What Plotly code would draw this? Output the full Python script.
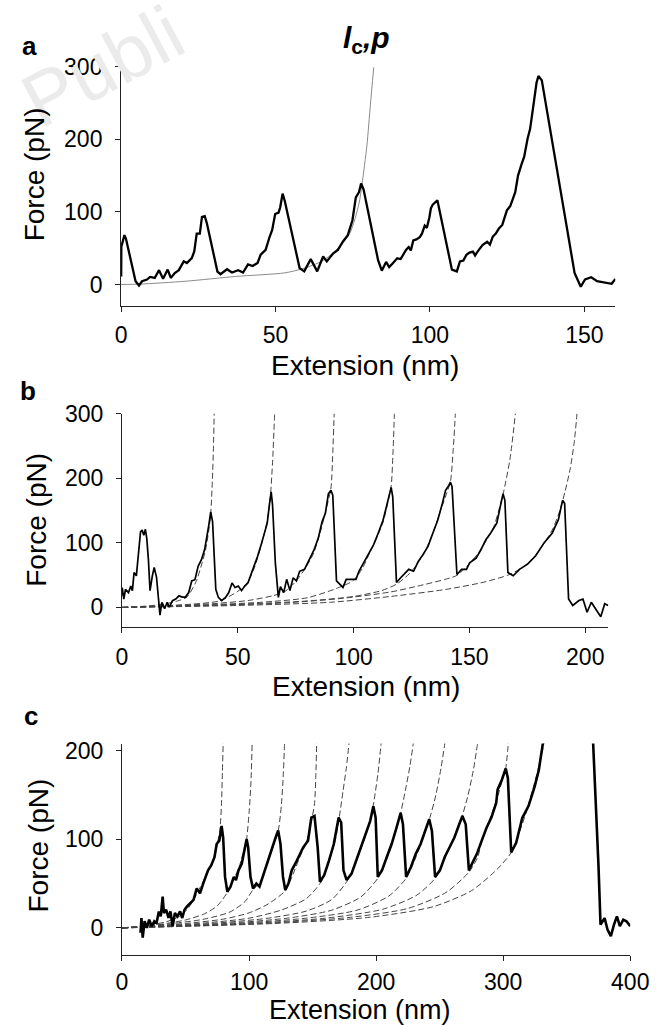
import plotly.graph_objects as go

# ---------------- Panel a: force-extension trace ----------------
ext_a = [0.05, 0.1, 1.1, 1.6, 4.7, 5.8, 6.8, 8.4, 9.4, 10.9,
         12.3, 13.6, 15.1, 16.1, 17.4, 18.7, 20.3, 21.3, 22.9, 23.7,
         24.5, 25.5, 26.2, 27.1, 27.8, 31.2, 32.2, 34.3, 35.9, 37.9,
         39.5, 41.1, 42.6, 44.2, 45.2, 46.8, 48.1, 48.9, 49.9, 51.0,
         51.5, 52.3, 53.0, 57.3, 57.8, 59.3, 60.4, 61.4, 63.5, 65.4,
         66.6, 68.7, 70.2, 71.8, 73.4, 74.9, 76.0, 77.0, 77.7, 78.5,
         83.2, 84.4, 85.8, 86.8, 87.9, 88.6, 89.4, 90.5, 91.5, 92.3,
         93.1, 93.8, 94.6, 95.6, 96.7, 97.4, 98.3, 99.0, 99.8, 100.3,
         100.9, 102.4, 107.1, 108.7, 109.7, 110.8, 111.8, 112.8, 113.9, 114.6,
         115.4, 116.2, 117.0, 118.5, 119.4, 120.3, 121.3, 122.3, 123.4, 124.9,
         126.0, 127.6, 128.5, 129.6, 130.5, 131.6, 132.4, 133.2, 134.5, 135.1,
         136.2, 146.8, 148.8, 150.2, 152.2, 154.1, 156.8, 158.8, 160.0]
force_a = [11, 52, 68, 63, 4.5, -1.5, 4.5, 6.8, 10.4, 9,
           19.7, 7.9, 20.6, 9, 15.8, 19.7, 31.9, 29.6, 36.4, 45.4,
           70, 70, 93, 94, 84, 17.8, 14.2, 21, 16.5, 19.7,
           16.5, 27.6, 25.4, 29.7, 41, 47.6, 65.7, 74.7, 97, 99,
           106, 125, 115, 29.4, 22.6, 18, 27.2, 34.9, 18, 38.5,
           31.7, 43, 47.6, 58.9, 68, 88.4, 120, 126.8, 139, 131,
           33.5, 19, 31, 24, 29, 33, 36, 35, 42.6, 48,
           51.6, 47, 60.6, 62, 65.2, 70, 81, 78, 92.3, 105,
           110, 116, 20.4, 18, 31.7, 33, 40.8, 44, 45.3, 40,
           45.3, 50, 54.4, 58.9, 55, 65.7, 70, 77, 82, 102,
           108, 127, 150, 165, 176, 201, 214, 238, 278, 287,
           281, 16, -3, 7, 10, 4.5, 3, 1, 7.5]

# WLC fit (panel a)
fit_a_x = [0, 6, 21, 37, 53, 59, 65, 69, 74, 77, 78, 79.6, 80.7, 81.8]
fit_a_y = [0, 0.5, 4.5, 11, 16, 22, 32, 45, 70, 111, 138, 192, 247, 299]

# ---------------- Panel b ----------------
ext_b = [0, 0.1, 0.8, 1.5, 2.8, 3.8, 4.5, 5.2, 6.2, 7.3,
         8.0, 8.7, 9.4, 10.1, 10.7, 11.4, 12.1, 13.1, 13.9, 14.9,
         15.9, 16.4, 17.2, 18.4, 19.5, 20.4, 21.8, 23.2, 24.6, 26.0,
         27.4, 28.8, 30.1, 31.5, 32.9, 34.3, 35.7, 36.6, 37.5, 38.3,
         39.1, 40.5, 41.6, 43.0, 44.7, 46.1, 47.5, 48.8, 50.2, 51.6,
         53.0, 54.4, 55.8, 57.1, 58.5, 59.9, 61.3, 62.7, 63.7, 64.4,
         65.0, 66.2, 67.5, 68.4, 69.8, 71.1, 72.5, 73.9, 75.3, 76.7,
         78.8, 80.8, 82.9, 84.7, 86.4, 87.8, 89.1, 90.2, 91.0, 92.6,
         94.0, 95.4, 96.8, 98.9, 101.0, 102.3, 104.4, 106.5, 108.6, 110.6,
         112.7, 114.5, 115.5, 116.2, 116.9, 118.5, 120.3, 121.7, 123.8, 125.9,
         127.9, 130.0, 132.1, 134.2, 136.3, 138.3, 139.7, 141.1, 141.8, 142.5,
         144.6, 146.6, 148.7, 150.1, 152.9, 154.9, 157.1, 159.1, 161.8, 163.6,
         164.5, 165.3, 166.6, 168.9, 171.6, 175.1, 178.6, 182.2, 185.7, 188.4,
         190.2, 191.1, 192.8, 194.6, 197.3, 199.0, 200.8, 202.6, 204.4, 206.7,
         208.4, 209.9]
force_b = [18.4, 30.6, 12.8, 28, 23, 33, 26, 54, 49, 87,
           117, 120, 112, 121, 107, 74, 26, 49, 61.9, 47,
           3.1, -12, 8, -2, 8, 0.3, 10.5, 13, 18, 16,
           16, 23, 41, 43, 64, 74, 90, 107, 128, 148,
           133, 28, 15.5, 10.5, 15.5, 23, 38, 31, 33, 26,
           33, 38, 51, 64, 79, 95, 113, 130.6, 161, 179,
           158.6, 69, 15.5, 32, 23, 43.5, 26, 46, 41, 56,
           59, 74, 89, 107, 133, 146, 176, 181.6, 174, 41,
           36, 31, 43.5, 43.5, 43.5, 56, 69, 84, 97, 115,
           135, 161, 176, 186, 171, 38.6, 46, 51, 59, 56,
           71.4, 82, 94.6, 115, 135, 161, 181.6, 189, 194, 187,
           51, 59, 59, 69, 76.5, 89, 105, 115, 130.5, 161,
           176, 166, 54, 49, 59, 67, 80, 100, 115, 136,
           166, 161, 13, 3, 10.7, 13, -7.5, 8, -2, -14.5,
           5.6, 3]

# WLC fits (panel b), one per unfolding peak
fit_b1_x = [0, 10, 18, 24, 28, 32, 34, 36, 37.5, 38.3, 39, 39.5, 39.8, 39.9]
fit_b1_y = [0, 2, 5, 10, 16, 40, 62, 88, 120, 145, 195, 250, 300, 315]
fit_b2_x = [0, 15, 30, 42, 50, 54, 57, 59, 61, 62.7, 64, 65, 65.9, 66.1]
fit_b2_y = [0, 2, 5, 10, 25, 38, 60, 82, 108, 135, 170, 225, 300, 320]
fit_b3_x = [0, 20, 40, 55, 65, 70, 75, 79, 82.5, 85.5, 88, 90.2, 91, 91.6, 91.7]
fit_b3_y = [0, 2.5, 6, 11, 18, 24, 40, 60, 82, 115, 150, 185, 240, 300, 315]
fit_b4_x = [0, 30, 60, 80, 93, 100, 104, 107, 110, 112.7, 114.5, 116.2, 117, 117.6, 117.7]
fit_b4_y = [0, 3, 8, 15, 30, 42, 62, 85, 108, 132, 158, 188, 240, 300, 315]
fit_b5_x = [0, 40, 80, 100, 112, 118.5, 124, 128, 131.5, 134.5, 137.5, 140, 141.8, 143, 143.9, 144]
fit_b5_y = [0, 3.5, 10, 17, 26, 36, 52, 70, 92, 118, 150, 175, 195, 245, 300, 315]
fit_b6_x = [0, 40, 70, 95, 116, 130, 140, 144.8, 150, 154, 157.5, 160.5, 163, 164.8, 167.5, 169.8, 170]
fit_b6_y = [0, 3, 7, 14, 24, 35, 44, 50, 68, 85, 105, 125, 155, 180, 230, 300, 315]
fit_b7_x = [0, 50, 90, 116, 140, 156, 166.6, 172, 177, 182, 186, 189, 191.3, 193.5, 195.2, 196.4, 196.5]
fit_b7_y = [0, 3, 8, 17, 28, 39, 50, 60, 74, 98, 122, 150, 180, 215, 255, 300, 315]

# ---------------- Panel c ----------------
ext_c = [14.6, 15.3, 16.3, 17.8, 19.6, 21.4, 23.4, 25.4, 27.2, 29.0,
         30.5, 32.0, 33.0, 34.8, 36.6, 38.1, 39.9, 41.6, 43.6, 45.7,
         47.4, 49.2, 51.2, 53.8, 56.3, 58.8, 61.4, 63.9, 65.9, 67.7,
         70.2, 72.8, 74.5, 76.6, 78.4, 79.6, 81.1, 82.9, 85.4, 88.0,
         89.7, 91.7, 94.3, 96.3, 98.1, 99.3, 101.1, 103.1, 105.7, 108.2,
         110.7, 113.2, 115.8, 118.4, 120.9, 122.9, 124.7, 126.7, 128.5, 131.0,
         133.6, 137.6, 142.6, 146.4, 149.0, 151.5, 154.0, 155.8, 159.1, 162.9,
         166.7, 170.5, 172.5, 174.3, 176.8, 180.6, 184.4, 188.2, 192.0, 195.3,
         197.8, 199.6, 201.3, 204.6, 208.4, 212.2, 216.0, 219.3, 221.1, 223.6,
         227.4, 231.2, 235.0, 238.8, 241.8, 243.9, 246.4, 250.2, 254.0, 257.8,
         261.6, 265.4, 267.9, 270.5, 273.0, 275.5, 279.3, 283.1, 286.9, 290.7,
         294.5, 295.6, 298.9, 302.0, 303.7, 306.3, 310.2, 315.0, 319.9, 324.8,
         328.0, 331.2, 336.0, 368.0, 371.0, 375.0, 376.6, 379.8, 382.1, 384.7,
         387.2, 389.5, 391.8, 394.5, 397.0, 399.2, 400.0]
force_c = [-5.5, 11, -11, 7.6, 0, 9.3, 1.9, 7.5, 5.6, 18.6,
           13, 35.4, 16.8, 20.5, 11.2, 18.6, 1.9, 16.8, 13, 18.6,
           11.2, 20.5, 24.2, 28, 31.6, 44.6, 39, 50, 57.6, 65,
           70.6, 79.8, 94.7, 98.5, 115, 102, 57.6, 40.9, 46.5, 57.6,
           54, 65, 72.6, 87.4, 100.4, 91, 57.6, 44.6, 50, 46.5,
           57.6, 68.8, 81.8, 91, 102, 110, 95, 57.6, 42.8, 50,
           65, 76, 91, 98.5, 124.5, 126.3, 91, 52, 59.5, 76,
           94.7, 124.5, 119, 65, 54, 61, 76, 91, 105.8, 120.6,
           137.4, 124.5, 57.6, 65, 80, 94.7, 113, 130, 117, 57.6,
           68.8, 83.6, 94.7, 109.5, 122.7, 109.5, 57.6, 65, 80, 91,
           102, 117, 126.3, 117, 65, 72.6, 83.6, 98.5, 113, 124.5,
           141, 156, 167, 180, 169, 85.1, 96, 124, 137.5, 159.7,
           178, 208, 300, 300, 208, 70, 3.7, 11, -1.9, -9.3,
           3.7, 13, 1.9, 9.3, 7.5, 3.7, 2]

# WLC fits (panel c)
fit_c1_x = [0, 20, 35, 45, 52, 58, 63, 68, 72, 75, 77, 78.3, 79, 79.6, 79.8]
fit_c1_y = [0, 3, 7, 13, 22, 36, 50, 64, 78, 95, 110, 140, 175, 208, 225]
fit_c2_x = [0, 30, 50, 65, 75, 82.9, 88, 92, 95, 98, 100, 101.5, 102.4, 102.6]
fit_c2_y = [0, 4, 9, 16, 25, 40, 55, 68, 83, 100, 130, 165, 208, 225]
fit_c3_x = [0, 40, 65, 85, 97, 103, 108, 113, 118, 123, 125.5, 127, 127.9, 128.2]
fit_c3_y = [0, 5, 10, 18, 30, 43, 50, 67, 88, 110, 140, 175, 208, 225]
fit_c4_x = [0, 50, 80, 100, 115, 128.5, 135, 140, 145, 149, 151.5, 152.5, 153.2, 153.4]
fit_c4_y = [0, 5, 10, 17, 27, 42, 62, 80, 96, 120, 140, 170, 208, 225]
fit_c5_x = [0, 60, 100, 125, 145, 155.8, 160, 164, 168, 171, 174, 176.5, 178.6, 179.2]
fit_c5_y = [0, 5, 11, 20, 33, 50, 62, 80, 100, 125, 155, 180, 208, 220]
fit_c6_x = [0, 70, 115, 145, 165, 176.8, 182, 187, 192, 196, 198.5, 201.5, 203.9, 204.6]
fit_c6_y = [0, 5, 11, 19, 32, 52, 66, 85, 105, 125, 145, 175, 208, 220]
fit_c7_x = [0, 80, 130, 165, 188, 201.3, 206, 211, 215, 219, 223, 226.5, 229.2, 230]
fit_c7_y = [0, 5, 11, 20, 35, 56, 70, 88, 108, 128, 155, 182, 208, 220]
fit_c8_x = [0, 90, 145, 185, 210, 223.6, 229, 234, 238, 242, 247, 251, 254, 255]
fit_c8_y = [0, 5, 11, 20, 36, 56, 72, 90, 108, 123, 150, 180, 208, 222]
fit_c9_x = [0, 100, 160, 205, 232, 246.4, 252, 257, 262, 267, 272, 276.5, 279.8, 281]
fit_c9_y = [0, 5, 11, 21, 37, 56, 72, 88, 105, 123, 148, 178, 208, 222]
fit_c10_x = [0, 110, 180, 225, 255, 273, 280, 283, 290, 296, 299, 302, 303.5, 304.5]
fit_c10_y = [0, 5, 12, 22, 40, 63, 80, 97, 125, 150, 165, 180, 200, 215]
fit_c11_x = [0, 120, 195, 245, 275, 295.8, 306.3, 312, 318, 323, 328, 332, 333]
fit_c11_y = [0, 5, 12, 24, 42, 67, 85, 105, 130, 155, 182, 208, 222]

# tick values
ticks_a_x = [0, 50, 100, 150]
ticks_ab_y = [0, 100, 200, 300]
ticks_b_x = [0, 50, 100, 150, 200]
ticks_c_x = [0, 100, 200, 300, 400]
ticks_c_y = [0, 100, 200]

W, H = 669, 1026
FONT = "Liberation Sans, Arial, Helvetica, sans-serif"

fig = go.Figure()


def line(x, y, xa, ya, color="black", width=1.5, dash=None, spline=False):
    fig.add_trace(go.Scatter(
        x=x, y=y, xaxis=xa, yaxis=ya, mode="lines",
        line=dict(color=color, width=width, dash=dash,
                  shape="spline" if spline else "linear",
                  smoothing=0.7 if spline else None),
        hoverinfo="skip", showlegend=False, cliponaxis=True))


# panel a
line(fit_a_x, fit_a_y, "x", "y", color="#8a8a8a", width=1, spline=True)
line(ext_a, force_a, "x", "y", width=2.3)

# panel b
DASH = "6px,3px"
for fx, fy in [(fit_b1_x, fit_b1_y), (fit_b2_x, fit_b2_y), (fit_b3_x, fit_b3_y),
               (fit_b4_x, fit_b4_y), (fit_b5_x, fit_b5_y), (fit_b6_x, fit_b6_y),
               (fit_b7_x, fit_b7_y)]:
    line(fx, fy, "x2", "y2", color="#444444", width=1, dash=DASH, spline=True)
line(ext_b, force_b, "x2", "y2", width=1.7)

# panel c
for fx, fy in [(fit_c1_x, fit_c1_y), (fit_c2_x, fit_c2_y), (fit_c3_x, fit_c3_y),
               (fit_c4_x, fit_c4_y), (fit_c5_x, fit_c5_y), (fit_c6_x, fit_c6_y),
               (fit_c7_x, fit_c7_y), (fit_c8_x, fit_c8_y), (fit_c9_x, fit_c9_y),
               (fit_c10_x, fit_c10_y), (fit_c11_x, fit_c11_y)]:
    line(fx, fy, "x3", "y3", color="#444444", width=1, dash=DASH, spline=True)
line(ext_c, force_c, "x3", "y3", width=2.6)


def px(v):
    return v / W


def py(v):
    return 1 - v / H


axis_common = dict(showgrid=False, zeroline=False, showline=True,
                   linecolor="#222222", linewidth=1, ticks="outside",
                   ticklen=5, tickwidth=1, tickcolor="#222222",
                   tickfont=dict(family=FONT, size=23, color="black"),
                   fixedrange=True)

fig.update_layout(
    width=W, height=H, margin=dict(l=0, r=0, t=0, b=0),
    paper_bgcolor="white", plot_bgcolor="white",
    font=dict(family=FONT, color="black"),
    xaxis=dict(axis_common, domain=[px(119.5), px(633)], range=[0, 160],
               tickvals=ticks_a_x, anchor="y", ticklabelstandoff=4),
    yaxis=dict(axis_common, domain=[py(296.3), py(54.3)], range=[-29, 300],
               tickvals=ticks_ab_y, anchor="x", ticklabelstandoff=8),
    xaxis2=dict(axis_common, domain=[px(120.5), px(625.8)], range=[0, 210],
                tickvals=ticks_b_x, anchor="y2", ticklabelstandoff=4),
    yaxis2=dict(axis_common, domain=[py(622.3), py(406)], range=[-31, 300],
                tickvals=ticks_ab_y, anchor="x2", ticklabelstandoff=8),
    xaxis3=dict(axis_common, domain=[px(120.5), px(648.5)], range=[0, 400],
                tickvals=ticks_c_x, anchor="y3", ticklabelstandoff=1),
    yaxis3=dict(axis_common, domain=[py(954.3), py(740)], range=[-30.8, 208],
                tickvals=ticks_c_y, anchor="x3", ticklabelstandoff=8),
)

ann = []
# faint watermark (partly cut by the top edge, as in the source)
ann.append(dict(text="Publi", x=px(100), y=py(54), xref="paper", yref="paper",
                showarrow=False, textangle=-28, xanchor="center", yanchor="middle",
                font=dict(family=FONT, size=76, color="#ebebeb")))

for (tx, ty) in [(30, 163.5), (32, 513.5), (34, 843.5)]:
    ann.append(dict(text="Force (pN)", x=px(tx), y=py(ty), xref="paper", yref="paper",
                    showarrow=False, textangle=-90, xanchor="center", yanchor="middle",
                    font=dict(family=FONT, size=28, color="black")))
for (tx, ty, fs) in [(372.7, 357, 28), (374, 682, 28), (368, 1010, 27)]:
    ann.append(dict(text="Extension (nm)", x=px(tx), y=py(ty), xref="paper", yref="paper",
                    showarrow=False, xanchor="center", yanchor="middle",
                    font=dict(family=FONT, size=fs, color="black")))
for (lab, tx, ty) in [("a", 24, 33), ("b", 23, 383), ("c", 26, 712)]:
    ann.append(dict(text="<b>" + lab + "</b>", x=px(tx), y=py(ty), xref="paper", yref="paper",
                    showarrow=False, xanchor="center", yanchor="middle",
                    font=dict(family=FONT, size=26, color="black")))
ann.append(dict(text="<b><i>l</i><sub>c</sub><i>,p</i></b>", x=px(375), y=py(27),
                xref="paper", yref="paper", showarrow=False,
                xanchor="center", yanchor="middle",
                font=dict(family=FONT, size=30, color="black")))

fig.update_layout(annotations=ann)

fig.write_html(
    "out.html",
    config={"displayModeBar": False, "staticPlot": True},
    post_script="document.body.style.margin='0';document.body.style.padding='0';"
                "document.body.style.overflow='hidden';",
)
